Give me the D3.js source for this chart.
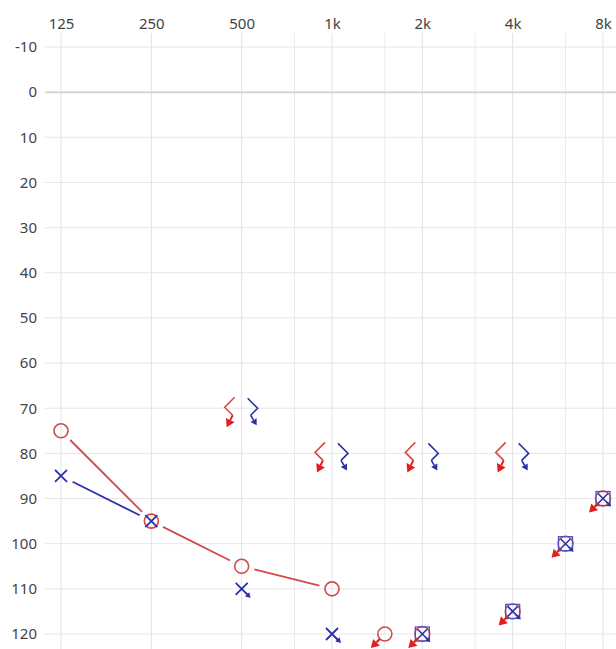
<!DOCTYPE html>
<html>
<head>
<meta charset="utf-8">
<script src="https://cdn.jsdelivr.net/npm/d3@7"></script>
<style>
  body { margin: 0; background: #fff; }
  svg { display: block; }
</style>
</head>
<body>
<div id="chart"></div>
<script>
// Axis values
const freqTicks = [125, 250, 500, 1000, 2000, 4000, 8000];
const freqLabels = ["125", "250", "500", "1k", "2k", "4k", "8k"];
const minorFreqs = [750, 1500, 3000, 6000];
const dbTicks = [-10, 0, 10, 20, 30, 40, 50, 60, 70, 80, 90, 100, 110, 120];

// Right ear air conduction (red O)
const rightAirFreq = [125, 250, 500, 1000, 1500];
const rightAirDb = [75, 95, 105, 110, 120];
const rightAirNR = [false, false, false, false, true];

// Left ear air conduction (blue X)
const leftAirFreq = [125, 250, 500, 1000];
const leftAirDb = [85, 95, 110, 120];
const leftAirNR = [false, false, true, true];

// Both ears, no response, masked
const maskedFreq = [2000, 4000, 6000, 8000];
const maskedDb = [120, 115, 100, 90];

// Bone conduction, no response
const boneFreq = [500, 1000, 2000, 4000];
const boneRightDb = [70, 80, 80, 80];
const boneLeftDb = [70, 80, 80, 80];

const W = 616, H = 649;
const RED = "#d24b4b", RED_DARK = "#e02020", BLUE = "#2f2fa8";

const x = d3.scaleLog().base(2).domain([125, 8000]).range([61, 603]);
const y = d3.scaleLinear().domain([-10, 120]).range([47, 634]);

const svg = d3.select("#chart").append("svg")
  .attr("width", W)
  .attr("height", H);

// grid
svg.selectAll("line.minor")
  .data(minorFreqs)
  .join("line")
  .attr("x1", d => x(d)).attr("x2", d => x(d))
  .attr("y1", 33).attr("y2", H)
  .attr("stroke", "#ececec").attr("stroke-width", 1);

svg.selectAll("line.vgrid")
  .data(freqTicks)
  .join("line")
  .attr("x1", d => x(d)).attr("x2", d => x(d))
  .attr("y1", 33).attr("y2", H)
  .attr("stroke", "#e2e2e2").attr("stroke-width", 1);

svg.selectAll("line.hgrid")
  .data(dbTicks)
  .join("line")
  .attr("x1", 45).attr("x2", W)
  .attr("y1", d => y(d)).attr("y2", d => y(d))
  .attr("stroke", d => d === 0 ? "#d6d6d6" : "#e6e6e6")
  .attr("stroke-width", d => d === 0 ? 2 : 1);

// axes labels
const topAxis = svg.append("g")
  .attr("transform", "translate(0,29)")
  .call(d3.axisTop(x).tickValues(freqTicks).tickFormat((d, i) => freqLabels[i]).tickSize(0).tickPadding(0));
const leftAxis = svg.append("g")
  .attr("transform", "translate(37,0)")
  .call(d3.axisLeft(y).tickValues(dbTicks).tickFormat(d => String(d)).tickSize(0).tickPadding(0));
[topAxis, leftAxis].forEach(g => {
  g.select(".domain").remove();
  g.selectAll(".tick text")
    .style("font-family", "'Noto Sans', 'Open Sans', sans-serif")
    .style("font-size", "15px")
    .attr("fill", "#444");
});

// helpers
function arrow(g, x1, y1, x2, y2, color, head, width) {
  const a = Math.atan2(y2 - y1, x2 - x1);
  const bx = x2 - head * Math.cos(a), by = y2 - head * Math.sin(a);
  g.append("line")
    .attr("x1", x1).attr("y1", y1).attr("x2", bx).attr("y2", by)
    .attr("stroke", color).attr("stroke-width", width);
  const w = head * 0.6;
  g.append("polygon")
    .attr("points", [
      [x2, y2],
      [bx + w * Math.sin(a), by - w * Math.cos(a)],
      [bx - w * Math.sin(a), by + w * Math.cos(a)]
    ].map(p => p.join(",")).join(" "))
    .attr("fill", color);
}

function trimmedSegments(freqs, dbs, nr, gap) {
  const pts = freqs.map((f, i) => ({ x: x(f), y: y(dbs[i]), nr: nr[i] })).filter(p => !p.nr);
  const segs = [];
  for (let i = 0; i < pts.length - 1; i++) {
    const p = pts[i], q = pts[i + 1];
    const len = Math.hypot(q.x - p.x, q.y - p.y);
    const ux = (q.x - p.x) / len, uy = (q.y - p.y) / len;
    segs.push([p.x + ux * gap, p.y + uy * gap, q.x - ux * gap, q.y - uy * gap]);
  }
  return segs;
}

const plot = svg.append("g");

// connecting lines
plot.selectAll("line.rline")
  .data(trimmedSegments(rightAirFreq, rightAirDb, rightAirNR, 13))
  .join("line")
  .attr("x1", d => d[0]).attr("y1", d => d[1]).attr("x2", d => d[2]).attr("y2", d => d[3])
  .attr("stroke", RED).attr("stroke-width", 1.8);

plot.selectAll("line.lline")
  .data(trimmedSegments(leftAirFreq, leftAirDb, leftAirNR, 13))
  .join("line")
  .attr("x1", d => d[0]).attr("y1", d => d[1]).attr("x2", d => d[2]).attr("y2", d => d[3])
  .attr("stroke", BLUE).attr("stroke-width", 1.8);

// right air O
rightAirFreq.forEach((f, i) => {
  const cx = x(f), cy = y(rightAirDb[i]);
  plot.append("circle")
    .attr("cx", cx).attr("cy", cy).attr("r", 7)
    .attr("fill", "none").attr("stroke", RED).attr("stroke-width", 1.6);
  if (rightAirNR[i]) arrow(plot, cx - 5, cy + 5, cx - 14, cy + 14, RED_DARK, 8, 2.2);
});

// left air X
leftAirFreq.forEach((f, i) => {
  const cx = x(f), cy = y(leftAirDb[i]), s = 6;
  plot.append("path")
    .attr("d", `M${cx - s},${cy - s}L${cx + s},${cy + s}M${cx + s},${cy - s}L${cx - s},${cy + s}`)
    .attr("stroke", BLUE).attr("stroke-width", 1.8).attr("fill", "none");
  if (leftAirNR[i]) arrow(plot, cx + 4, cy + 4, cx + 9, cy + 9, BLUE, 5, 1.5);
});

// masked / overlapped no-response symbols
maskedFreq.forEach((f, i) => {
  const cx = x(f), cy = y(maskedDb[i]), s = 7;
  plot.append("circle")
    .attr("cx", cx).attr("cy", cy).attr("r", 7.5)
    .attr("fill", "none").attr("stroke", RED).attr("stroke-width", 1.4);
  plot.append("rect")
    .attr("x", cx - s).attr("y", cy - s).attr("width", 2 * s).attr("height", 2 * s)
    .attr("fill", "none").attr("stroke", "#5050c0").attr("stroke-width", 1.3);
  plot.append("path")
    .attr("d", `M${cx - 5},${cy - 5}L${cx + 5},${cy + 5}M${cx + 5},${cy - 5}L${cx - 5},${cy + 5}`)
    .attr("stroke", BLUE).attr("stroke-width", 1.6).attr("fill", "none");
  arrow(plot, cx - 5, cy + 5, cx - 14, cy + 14, RED_DARK, 8, 2.2);
  arrow(plot, cx + 3, cy + 3, cx + 8, cy + 8, BLUE, 4, 1.4);
});

// bone conduction no response: red "<", blue ">"
boneFreq.forEach((f, i) => {
  const fx = x(f);
  const ry = y(boneRightDb[i]);
  plot.append("path")
    .attr("d", `M${fx - 7},${ry - 11}L${fx - 17},${ry - 1}L${fx - 9},${ry + 7}`)
    .attr("stroke", RED).attr("stroke-width", 1.6).attr("fill", "none");
  arrow(plot, fx - 9, ry + 7, fx - 15, ry + 19, RED_DARK, 8, 2);

  const ly = y(boneLeftDb[i]);
  plot.append("path")
    .attr("d", `M${fx + 6},${ly - 10}L${fx + 16},${ly}L${fx + 9},${ly + 7}`)
    .attr("stroke", BLUE).attr("stroke-width", 1.6).attr("fill", "none");
  arrow(plot, fx + 9, ly + 7, fx + 15, ly + 17, BLUE, 6, 1.6);
});
</script>
</body>
</html>
